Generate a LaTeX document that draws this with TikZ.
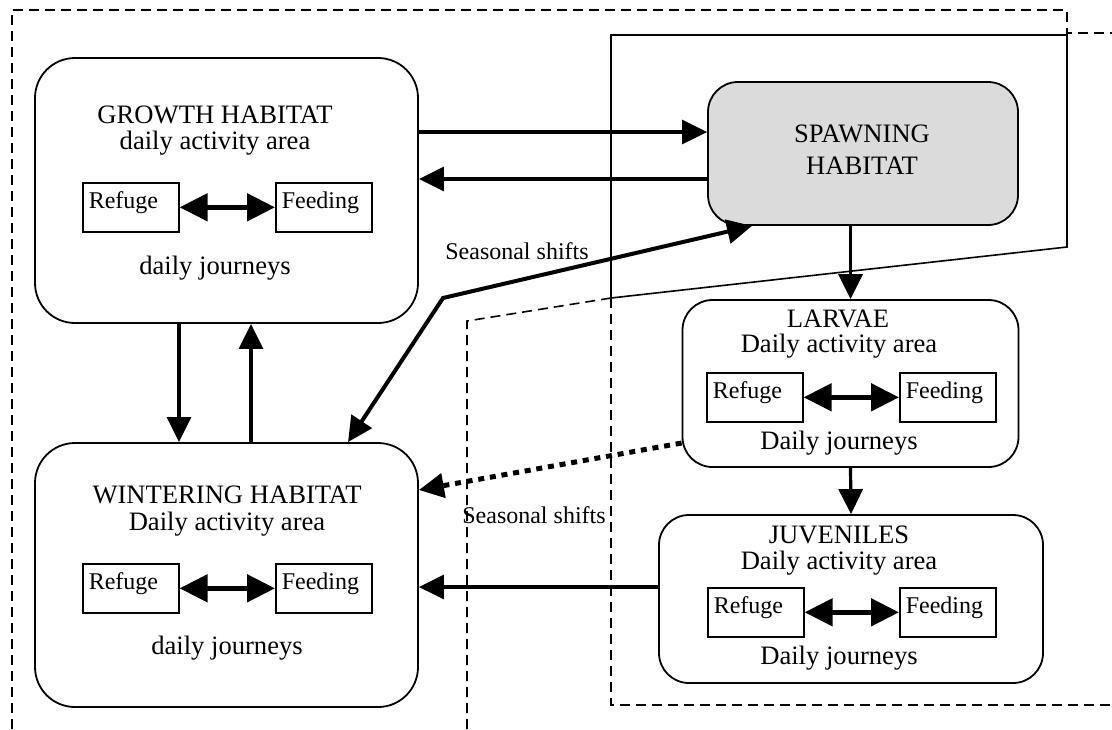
\documentclass[tikz,border=0pt]{standalone}
\usepackage{fontspec}
\setmainfont{Liberation Serif}
\usetikzlibrary{arrows.meta,positioning}

\tikzset{
  habitat/.style={draw,line width=0.9pt,fill=white,inner sep=0pt,rounded corners=20pt},
  stage/.style={habitat,rounded corners=15pt},
  spot/.style={draw,line width=0.8pt,fill=white,anchor=north west,inner xsep=3pt,inner ysep=0pt,
    text width=42pt,text depth=7.6pt,minimum height=24.5pt,align=left,font=\fontsize{12}{14}\selectfont},
  heading/.style={anchor=base,inner sep=0pt,font=\fontsize{13.3}{16}\selectfont},
  note/.style={anchor=base,inner sep=0pt,font=\fontsize{12}{14}\selectfont},
  flow/.style={line width=1.6pt,-{Triangle[length=12.5pt,width=12pt]}},
  seasonal/.style={line width=2pt,{Triangle[length=12.5pt,width=12pt]}-{Triangle[length=12.5pt,width=12pt]}},
  daily/.style={line width=2.5pt,{Triangle[length=14pt,width=13.5pt]}-{Triangle[length=14pt,width=13.5pt]}},
  drift/.style={flow,line width=2.5pt,dash pattern=on 3pt off 2.9pt},
  zone/.style={line width=0.8pt,dash pattern=on 5pt off 3pt},
}

\begin{document}
\begin{tikzpicture}[x=0.5pt,y=-0.5pt]
  \useasboundingbox (0,0) rectangle (1112,729);

  % zones (dashed and solid outlines)
  \draw[zone] (12,729) -- (12,10) -- (1067,10) -- (1067,33) -- (1112,33);
  \draw[line width=0.8pt] (611,35) -- (1067,35) -- (1067,247) -- (611,298) -- cycle;
  \draw[zone] (611,298) -- (467,321) -- (467,729);
  \draw[zone] (611,298) -- (611,705) -- (1112,705);

  % habitats
  \node[habitat,minimum width=191.5pt,minimum height=132.5pt] (growth) at (226.5,190.5) {};
  \node[habitat,minimum width=191.5pt,minimum height=132pt] (winter) at (226.5,575) {};
  \node[stage,fill=gray!28,minimum width=155pt,minimum height=71.5pt] (spawn) at (863,153.5) {};
  \node[stage,minimum width=168pt,minimum height=83.5pt] (larvae) at (850.5,383.5) {};
  \node[stage,minimum width=192pt,minimum height=84pt] (juv) at (851,599) {};

  % growth habitat
  \node[heading] (gname) at (215,123) {GROWTH HABITAT};
  \node[heading] (garea) at (215,149) {daily activity area};
  \node[spot] (gref) at (82,182) {Refuge};
  \node[spot] (gfeed) at (275,182) {Feeding};
  \node[heading] (gtrip) at (215,274) {daily journeys};

  % wintering habitat
  \node[heading] (wname) at (227,503) {WINTERING HABITAT};
  \node[heading] (warea) at (227,530) {Daily activity area};
  \node[spot] (wref) at (82,563) {Refuge};
  \node[spot] (wfeed) at (275,563) {Feeding};
  \node[heading] (wtrip) at (227,654) {daily journeys};

  % spawning habitat
  \node[heading] (sname) at (862,142) {SPAWNING};
  \node[heading] (sname2) at (862,174) {HABITAT};

  % larvae
  \node[heading] (lname) at (838,327) {LARVAE};
  \node[heading] (larea) at (839,352) {Daily activity area};
  \node[spot] (lref) at (706,372) {Refuge};
  \node[spot] (lfeed) at (899,372) {Feeding};
  \node[heading] (ltrip) at (839,449) {Daily journeys};

  % juveniles
  \node[heading] (jname) at (839,543) {JUVENILES};
  \node[heading] (jarea) at (839,569) {Daily activity area};
  \node[spot] (jref) at (707,587) {Refuge};
  \node[spot] (jfeed) at (899,587) {Feeding};
  \node[heading] (jtrip) at (839,664) {Daily journeys};

  \node[note] (shiftA) at (517,259) {Seasonal shifts};
  \node[note] (shiftB) at (534,523) {Seasonal shifts};

  % daily journeys
  \foreach \r/\f in {gref/gfeed,wref/wfeed,lref/lfeed,jref/jfeed}
    \draw[daily] (\r) -- (\f);

  % seasonal shifts
  \coordinate (bend) at (443,298);
  \draw[flow] ([yshift=29.25pt]growth.east) -- ([yshift=10.75pt]spawn.west);
  \draw[flow] ([yshift=-12.75pt]spawn.west) -- ([yshift=5.75pt]growth.east);
  \draw[flow] ([xshift=-23.75pt]growth.south) -- ([xshift=-23.75pt]winter.north);
  \draw[flow] ([xshift=12.25pt]winter.north) -- ([xshift=12.25pt]growth.south);
  \draw[flow] (spawn.south -| larvae.north) -- (larvae.north);
  \draw[flow] (larvae.south) -- (juv.north);
  \draw[flow] ([yshift=6pt]juv.west) -- ([yshift=-6pt]winter.east);
  \draw[drift] ([yshift=-29.75pt]larvae.west) -- ([yshift=42.5pt]winter.east);
  \draw[seasonal] ([xshift=60.75pt]winter.north) -- (bend) -- ([xshift=-55.5pt]spawn.south);
\end{tikzpicture}
\end{document}
